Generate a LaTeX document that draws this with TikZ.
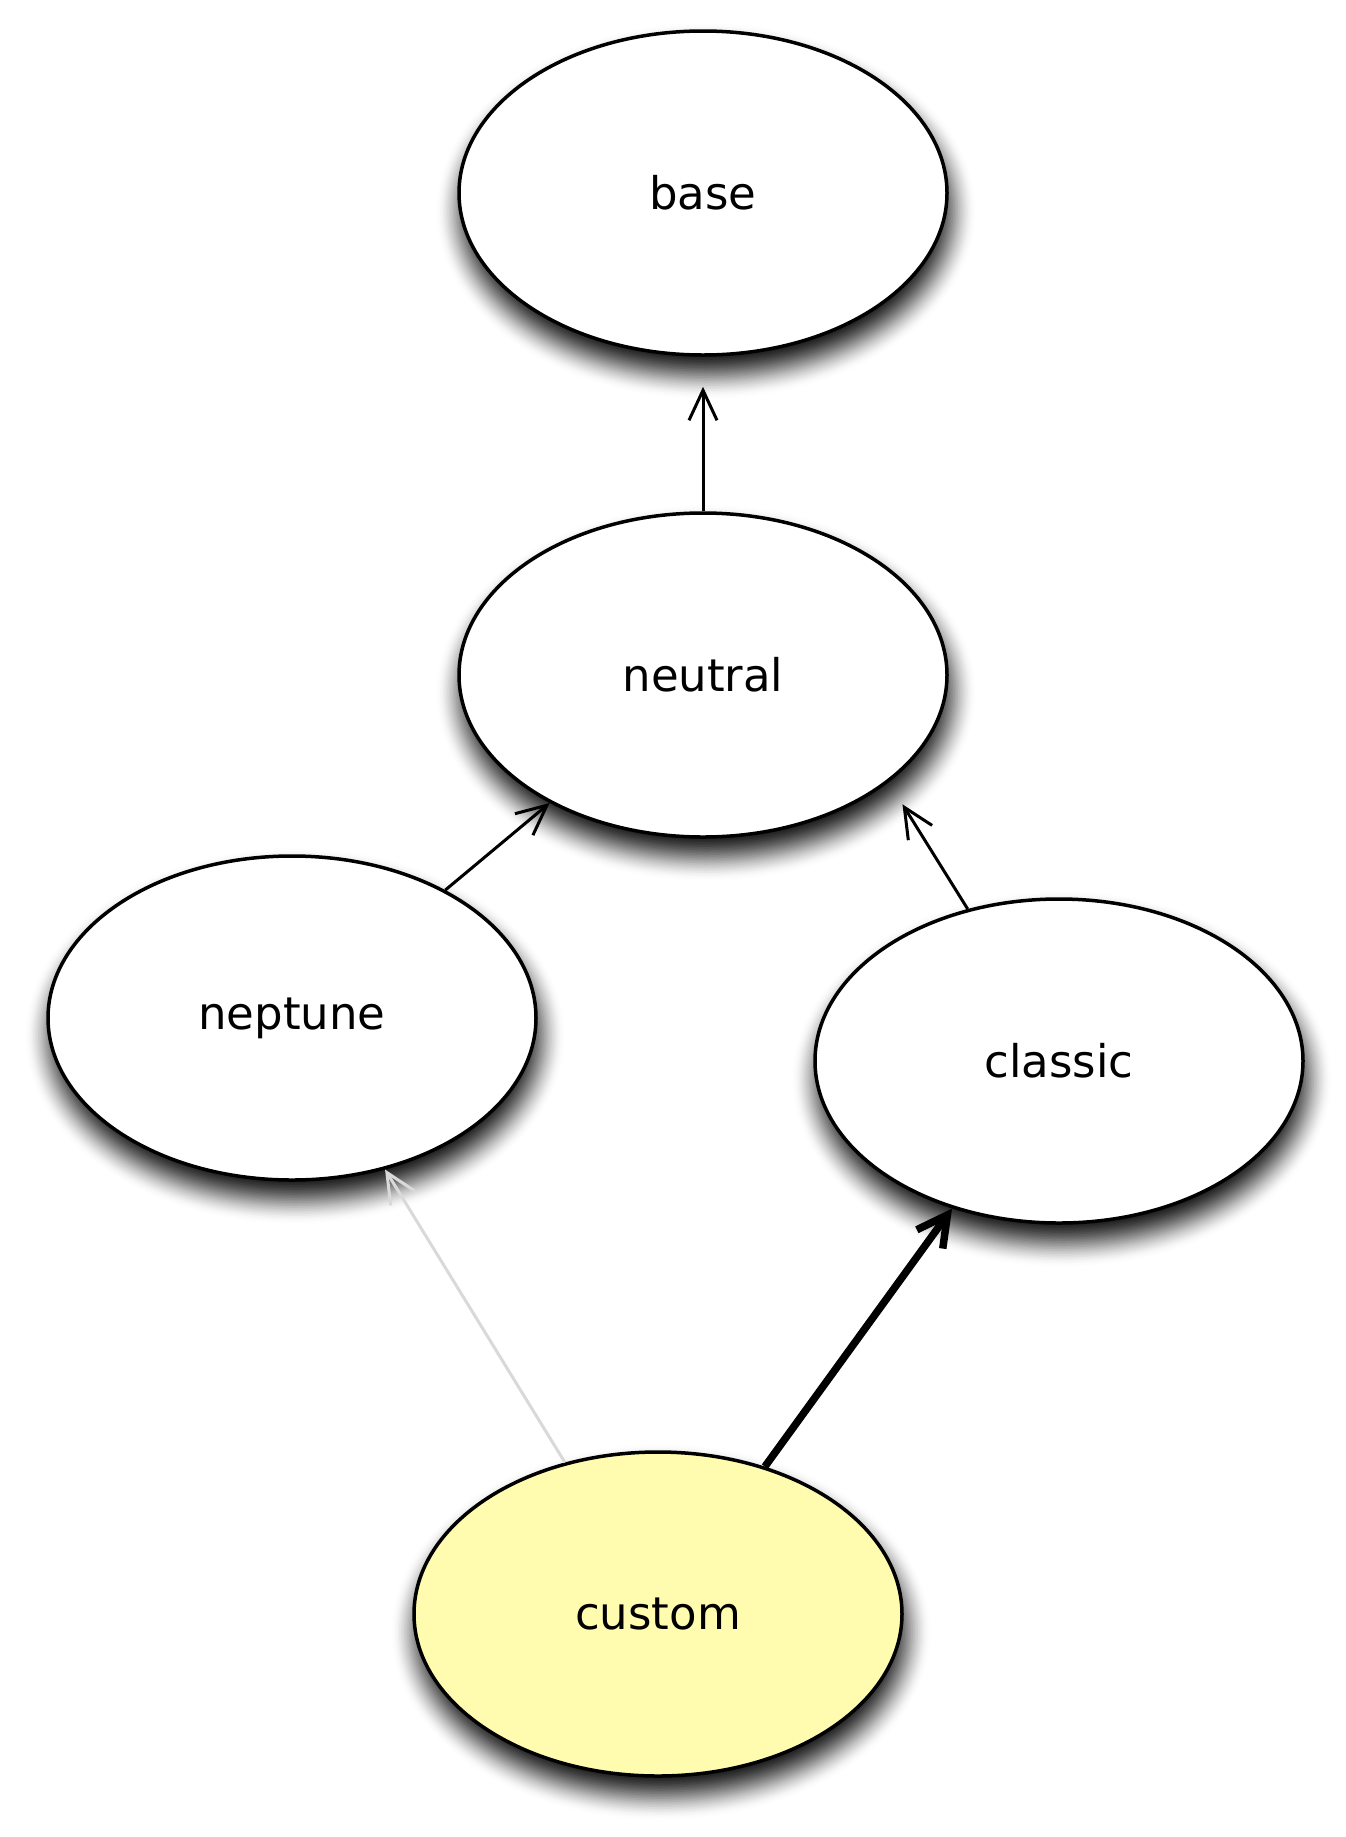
\documentclass[tikz,border=0pt]{standalone}
\usepackage{fontspec}
\setmainfont{DejaVu Sans}
\usetikzlibrary{shapes.geometric,arrows.meta,backgrounds}
\definecolor{custfill}{RGB}{255,252,176}
\definecolor{lightgrayline}{RGB}{217,217,217}
\newcommand\ovalshadow[1]{%
  \foreach \j in {1,...,32}{%
    \pgfmathsetmacro\ta{(\j-1)/32}%
    \pgfmathsetmacro\tb{\j/32}%
    \pgfmathsetmacro\da{0.92*\ta*\ta*(3-2*\ta)}%
    \pgfmathsetmacro\db{0.92*\tb*\tb*(3-2*\tb)}%
    \pgfmathsetmacro\al{(\db-\da)/(1-\da)}%
    \pgfmathsetmacro\gr{26-52*(\j-1)/32}%
    \pgfmathsetmacro\rx{244+\gr}%
    \pgfmathsetmacro\ry{162+\gr}%
    \fill[black, opacity=\al] ([shift={(3,18)}]#1.center) ellipse [x radius=\rx pt, y radius=\ry pt];
  }%
}
\begin{document}
\begin{tikzpicture}[x=1pt,y=-1pt,
  stnode/.style={ellipse, draw=black, line width=3.5pt, fill=white,
    minimum width=488pt, minimum height=324pt, inner sep=0pt,
    font=\fontsize{45}{50}\selectfont},
  arr/.style={line width=3pt, -{Straight Barb[length=30pt,width=28pt]}},
  thickarr/.style={line width=7.5pt, -{Straight Barb[length=30pt,width=32pt]}},
  greyarr/.style={line width=3pt, draw=lightgrayline, -{Straight Barb[length=30pt,width=28pt]}}]
\useasboundingbox (0,0) rectangle (1345,1837);
\node[stnode] (base) at (703,193) {base};
\node[stnode] (neutral) at (703,675) {neutral};
\node[stnode] (neptune) at (292,1018) {neptune};
\node[stnode] (classic) at (1059,1061) {classic};
\node[stnode, fill=custfill] (custom) at (658,1614) {custom};
\begin{scope}[on background layer]
  \fill[white] (0,0) rectangle (1345,1837);
  \ovalshadow{base}
  \ovalshadow{neutral}
  \ovalshadow{neptune}
  \ovalshadow{classic}
  \ovalshadow{custom}
\end{scope}
\draw[arr, shorten >=30pt] (neutral) -- (base);
\draw[arr] (neptune) -- (neutral);
\draw[arr, shorten >=26pt] (classic.121) -- (neutral.-30);
\draw[greyarr] (custom) -- (neptune);
\draw[thickarr] (custom) -- (classic);
\end{tikzpicture}
\end{document}
